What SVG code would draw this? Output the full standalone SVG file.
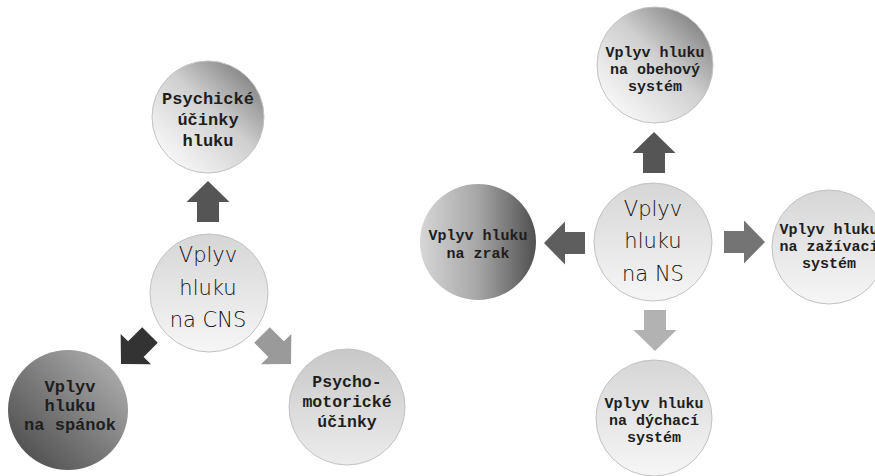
<svg xmlns="http://www.w3.org/2000/svg" width="875" height="476" viewBox="0 0 875 476">
<defs>
<style>
.t{font-family:"Liberation Mono","Courier New",monospace;font-weight:bold;fill:#1e1e1e;text-anchor:middle}
.h{font-family:"DejaVu Sans","Noto Sans",sans-serif;font-weight:200;fill:#111;text-anchor:middle;font-size:21px}
.c{stroke:#c2c2c2;stroke-width:1}
</style>
<linearGradient id="gA" x1="0.15" y1="0.9" x2="0.9" y2="0.1">
<stop offset="0" stop-color="#f8f8f8"/><stop offset="0.55" stop-color="#cfcfcf"/><stop offset="1" stop-color="#808080"/>
</linearGradient>
<linearGradient id="gL" x1="0" y1="0" x2="0" y2="1">
<stop offset="0" stop-color="#d6d6d6"/><stop offset="1" stop-color="#f6f6f6"/>
</linearGradient>
<linearGradient id="gD" x1="0" y1="1" x2="1" y2="0">
<stop offset="0" stop-color="#444"/><stop offset="0.5" stop-color="#7c7c7c"/><stop offset="1" stop-color="#b8b8b8"/>
</linearGradient>
<linearGradient id="gZ" x1="0" y1="0" x2="1" y2="0">
<stop offset="0" stop-color="#d6d6d6"/><stop offset="0.5" stop-color="#a6a6a6"/><stop offset="1" stop-color="#505050"/>
</linearGradient>
<linearGradient id="gM" x1="0" y1="0" x2="0" y2="1">
<stop offset="0" stop-color="#c8c8c8"/><stop offset="1" stop-color="#ececec"/>
</linearGradient>
<path id="arr" d="M0,-11 H20 V-21.5 L41,0 L20,21.5 V11 H0 Z"/>
</defs>
<rect width="875" height="476" fill="#fff"/>

<g id="connectors">
<use href="#arr" transform="translate(208,222) rotate(-90)" fill="#555"/>
<use href="#arr" transform="translate(150,335) rotate(135)" fill="#333"/>
<use href="#arr" transform="translate(262,335) rotate(45)" fill="#9a9a9a"/>
<use href="#arr" transform="translate(654,173) rotate(-90)" fill="#555"/>
<use href="#arr" transform="translate(585,243) rotate(180)" fill="#5e5e5e"/>
<use href="#arr" transform="translate(724,242)" fill="#747474"/>
<use href="#arr" transform="translate(655,310) rotate(90)" fill="#b2b2b2"/>
</g>

<g id="psychicke">
<circle class="c" cx="208" cy="117" r="56" fill="url(#gA)"/>
<text class="t" font-size="17"><tspan x="208" y="104">Psychické</tspan><tspan x="208" y="125">účinky</tspan><tspan x="208" y="146">hluku</tspan></text>
</g>

<g id="cns">
<circle class="c" cx="209" cy="293" r="59" fill="url(#gL)"/>
<text class="h"><tspan x="208" y="262">Vplyv</tspan><tspan x="208" y="295">hluku</tspan><tspan x="208" y="327">na CNS</tspan></text>
</g>

<g id="spanok">
<circle cx="68" cy="410" r="60" fill="url(#gD)"/>
<text class="t" font-size="17"><tspan x="70" y="392">Vplyv</tspan><tspan x="70" y="411">hluku</tspan><tspan x="70" y="430">na spánok</tspan></text>
</g>

<g id="psychomotoricke">
<circle class="c" cx="347" cy="407" r="58" fill="url(#gM)"/>
<text class="t" font-size="16.5"><tspan x="347" y="387">Psycho-</tspan><tspan x="347" y="407">motorické</tspan><tspan x="347" y="427">účinky</tspan></text>
</g>

<g id="ns">
<circle class="c" cx="653" cy="242" r="59" fill="url(#gL)"/>
<text class="h"><tspan x="653" y="216">Vplyv</tspan><tspan x="653" y="248">hluku</tspan><tspan x="653" y="281">na NS</tspan></text>
</g>

<g id="obehovy">
<circle class="c" cx="655" cy="65" r="58" fill="url(#gA)"/>
<text class="t" font-size="15"><tspan x="655" y="57">Vplyv hluku</tspan><tspan x="655" y="74">na obehový</tspan><tspan x="655" y="91">systém</tspan></text>
</g>

<g id="zrak">
<circle cx="478" cy="242" r="58" fill="url(#gZ)"/>
<text class="t" font-size="15"><tspan x="478" y="240">Vplyv hluku</tspan><tspan x="478" y="258">na zrak</tspan></text>
</g>

<g id="zazivaci">
<circle class="c" cx="829" cy="247" r="57" fill="url(#gL)"/>
<text class="t" font-size="15"><tspan x="829" y="234">Vplyv hluku</tspan><tspan x="829" y="251">na zažívací</tspan><tspan x="829" y="268">systém</tspan></text>
</g>

<g id="dychaci">
<circle class="c" cx="654" cy="418" r="58" fill="url(#gL)"/>
<text class="t" font-size="15"><tspan x="654" y="408">Vplyv hluku</tspan><tspan x="654" y="425">na dýchací</tspan><tspan x="654" y="442">systém</tspan></text>
</g>
</svg>
